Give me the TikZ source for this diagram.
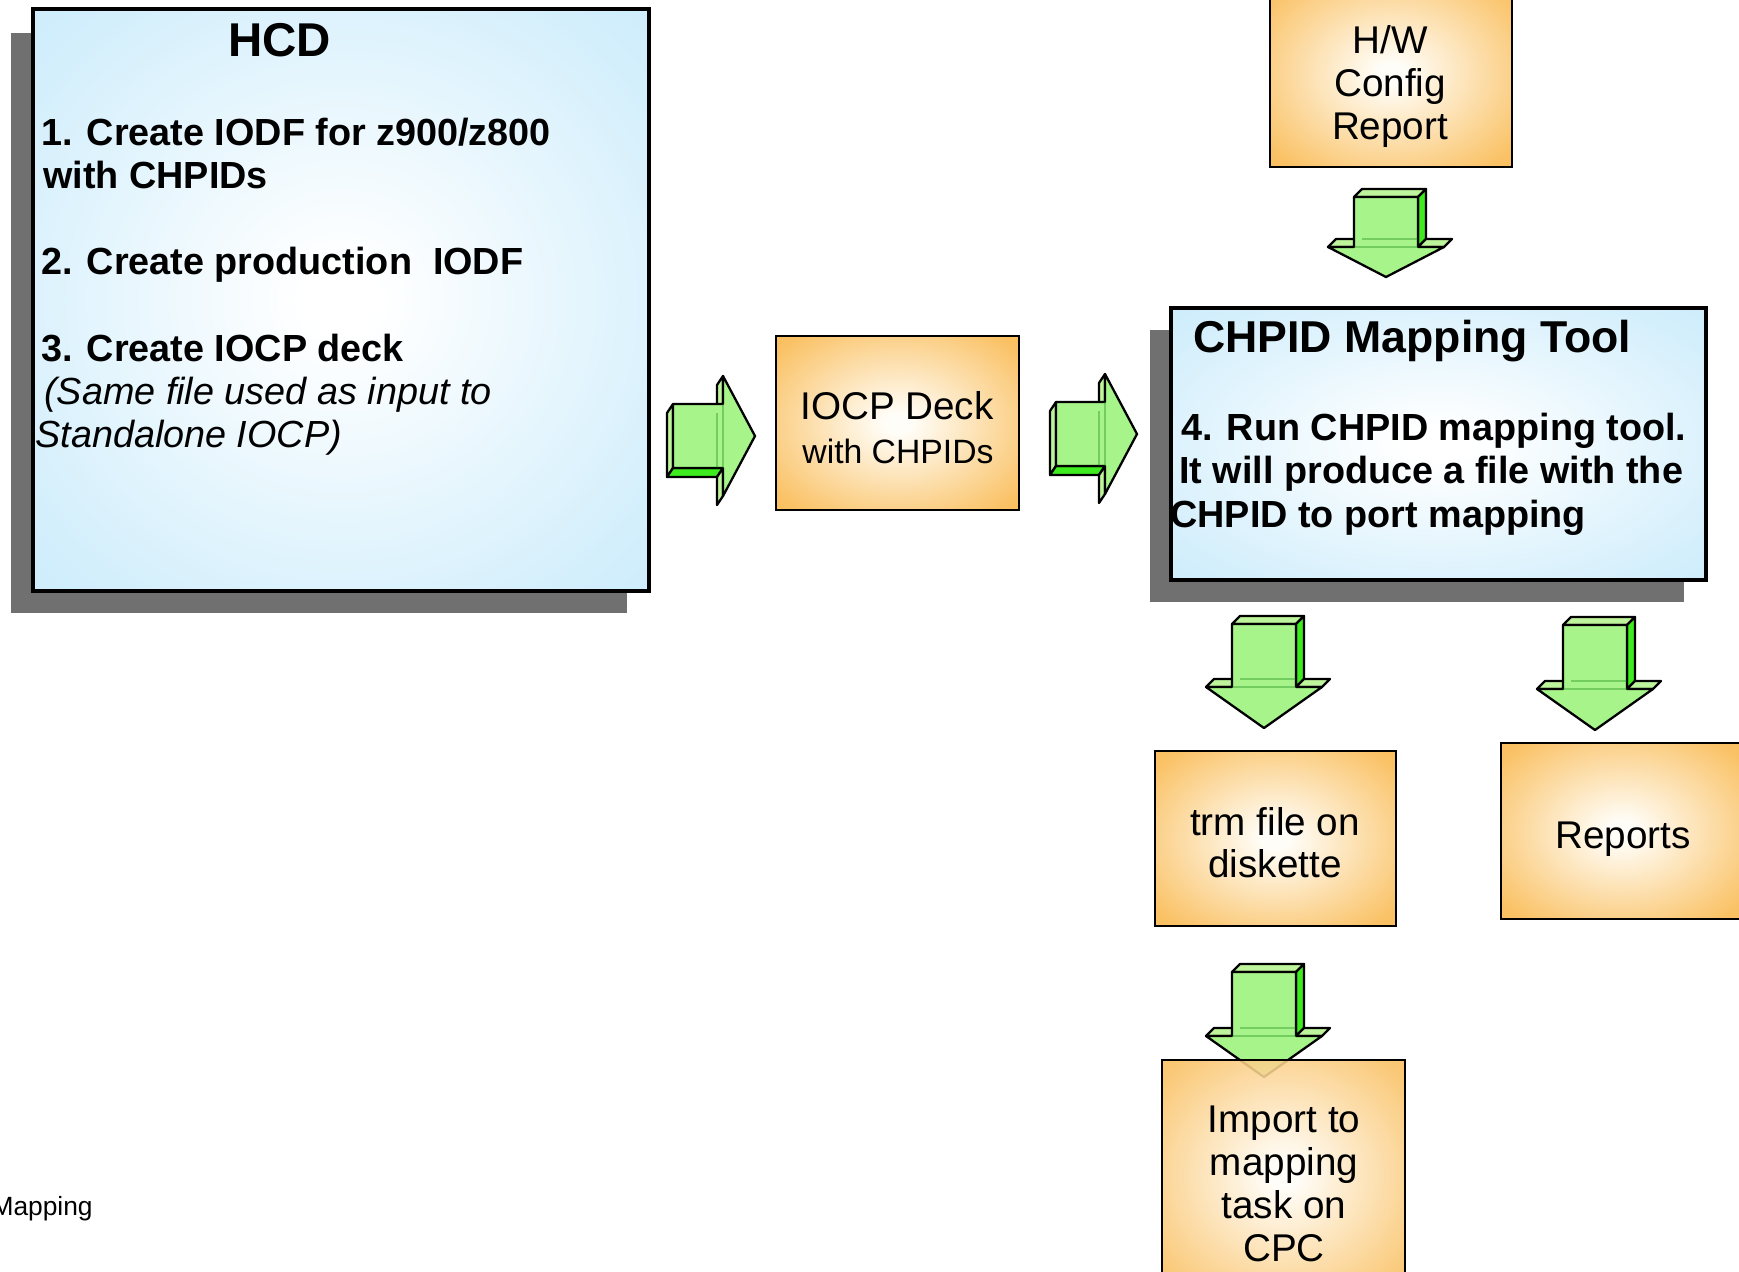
\documentclass[tikz,border=0pt]{standalone}
\usepackage{fontspec}
\setmainfont{Liberation Sans}
\definecolor{shadowgray}{HTML}{707070}
\definecolor{orC}{HTML}{FFFDF7}
\definecolor{orM}{HTML}{FAC266}
\definecolor{orN}{HTML}{F8B242}
\definecolor{orE}{HTML}{F5A52C}
\definecolor{blC}{HTML}{FFFFFF}
\definecolor{blM}{HTML}{D4EFFC}
\definecolor{blN}{HTML}{C0E6FA}
\definecolor{blE}{HTML}{AEDEF8}
\definecolor{arFront}{HTML}{A6F48A}
\definecolor{arLight}{HTML}{BEF59C}
\definecolor{arBright}{HTML}{3DEB1F}
\pgfdeclareradialshading{orangeglow}{\pgfpoint{0bp}{0bp}}{color(0bp)=(orC); color(3bp)=(orC); color(32bp)=(orM); color(50bp)=(orN); color(72bp)=(orE)}
\pgfdeclareradialshading{blueglow}{\pgfpoint{0bp}{0bp}}{color(0bp)=(blC); color(3bp)=(blC); color(30bp)=(blM); color(50bp)=(blN); color(72bp)=(blE)}
\tikzset{
  shadowfill/.style={fill=shadowgray, draw=none},
  bluebox/.style={draw=black, line width=2.2pt, shading=blueglow, inner sep=0pt},
  orangebox/.style={draw=black, line width=1.1pt, shading=orangeglow, inner sep=0pt},
  titletext/.style={font=\fontsize{27}{30}\selectfont\bfseries, inner sep=0pt},
  tooltitle/.style={font=\fontsize{25.4}{28}\selectfont\bfseries, inner sep=0pt},
  boldtext/.style={font=\fontsize{21.5}{24.5}\selectfont\bfseries, inner sep=0pt},
  italtext/.style={font=\fontsize{21.5}{24.5}\selectfont\itshape, inner sep=0pt},
  ortext/.style={font=\fontsize{22}{24.5}\selectfont, inner sep=0pt},
  ortextsmall/.style={font=\fontsize{19.2}{22}\selectfont, inner sep=0pt},
  foottext/.style={font=\fontsize{15}{17}\selectfont, inner sep=0pt},
  arLightFace/.style={fill=arLight, draw=black, line width=1.3pt, line join=round},
  arBrightFace/.style={fill=arBright, draw=black, line width=1.3pt, line join=round},
  arFrontFace/.style={fill=arFront, draw=black, line width=1.3pt, line join=round},
  arGhost/.style={draw=green!45!black, opacity=0.3, line width=1pt},
}
% box node from image pixel corners
\newcommand\boxnode[7][]{\node[#2, #1, minimum width={(#5-#3)*0.02cm}, minimum height={(#6-#4)*0.02cm}] (#7) at ({(#3+#5)/2},{(#4+#6)/2}) {};}
% down block arrow: #1 cx, #2 y of shaft top, #3 shaft length, #4 head length
\newcommand\darrow[4]{%
\begin{scope}[shift={(#1,#2)}]
 \path[arLightFace] (-32,0) -- (32,0) -- (40,-8) -- (-24,-8) -- cycle;
 \path[arBrightFace] (32,0) -- (32,#3) -- (40,{#3-8}) -- (40,-8) -- cycle;
 \path[arLightFace] (32,#3) -- (58,#3) -- (66,{#3-8}) -- (40,{#3-8}) -- cycle;
 \path[arLightFace] (-58,#3) -- (-32,#3) -- (-24,{#3-8}) -- (-50,{#3-8}) -- cycle;
 \path[arFrontFace] (-32,0) -- (32,0) -- (32,#3) -- (58,#3) -- (0,{#3+#4}) -- (-58,#3) -- (-32,#3) -- cycle;
 \draw[arGhost] (-32,#3) -- (32,#3) (-24,{#3-8}) -- (32,{#3-8});
\end{scope}}
% right block arrow: #1 x of shaft left, #2 cy, #3 shaft length, #4 head length
\newcommand\rarrow[4]{%
\begin{scope}[shift={(#1,#2)}]
 \path[arLightFace] (0,32) -- (0,-32) -- (-6,-23) -- (-6,41) -- cycle;
 \path[arBrightFace] (#3,32) -- (0,32) -- (-6,41) -- ({#3-6},41) -- cycle;
 \path[arLightFace] (#3,-32) -- (#3,-60) -- ({#3-6},-51) -- ({#3-6},-23) -- cycle;
 \path[arLightFace] (#3,60) -- (#3,32) -- ({#3-6},41) -- ({#3-6},69) -- cycle;
 \path[arFrontFace] (0,-32) -- (#3,-32) -- (#3,-60) -- ({#3+#4},0) -- (#3,60) -- (#3,32) -- (0,32) -- cycle;
 \draw[arGhost] (#3,-32) -- (#3,32) ({#3-6},-23) -- ({#3-6},32);
\end{scope}}
\begin{document}
\begin{tikzpicture}[x=0.02cm,y=-0.02cm]
\useasboundingbox (0,0) rectangle (1739,1272);
\clip (0,0) rectangle (1739,1272);
\fill[white] (0,0) rectangle (1739,1272);

% HCD block
\fill[shadowfill] (11,33) rectangle (627,613);
\boxnode{bluebox}{33}{9}{649}{591}{hcd}
\node[titletext, anchor=base west] (hcdT) at (228,56) {HCD};
\node[boldtext, anchor=base west] (hcd1) at (41,145) {1. Create IODF for z900/z800};
\node[boldtext, anchor=base west] (hcd2) at (43,188) {with CHPIDs};
\node[boldtext, anchor=base west] (hcd3) at (41,274) {2. Create production\ \ IODF};
\node[boldtext, anchor=base west] (hcd4) at (41,361) {3. Create IOCP deck};
\node[italtext, anchor=base west] (hcd5) at (44,404) {(Same file used as input to};
\node[italtext, anchor=base west] (hcd6) at (35,447) {Standalone IOCP)};

% arrows right
\rarrow{673}{436}{50}{32}
\rarrow{1056}{434}{49}{32}

% IOCP deck
\boxnode{orangebox}{776}{336}{1019}{510}{iocp}
\node[ortext, anchor=base] (iocpA) at (897,419) {IOCP Deck};
\node[ortextsmall, anchor=base] (iocpB) at (898,463) {with CHPIDs};

% H/W config report
\boxnode{orangebox}{1270}{-20}{1512}{167}{hwbox}
\node[ortext, anchor=base] (hw1) at (1390,53) {H/W};
\node[ortext, anchor=base] (hw2) at (1390,96) {Config};
\node[ortext, anchor=base] (hw3) at (1390,139) {Report};

\darrow{1386}{197}{50}{30}

% CHPID Mapping Tool
\fill[shadowfill] (1150,330) rectangle (1684,602);
\boxnode{bluebox}{1171}{308}{1706}{580}{cmt}
\node[tooltitle, anchor=base west] (cmtT) at (1193,352) {CHPID Mapping Tool};
\node[boldtext, anchor=base west] (cmt1) at (1181,440) {4. Run CHPID mapping tool.};
\node[boldtext, anchor=base west] (cmt2) at (1179,483) {It will produce a file with the};
\node[boldtext, anchor=base west] (cmt3) at (1170,527) {CHPID to port mapping};

\darrow{1264}{624}{63}{41}
\darrow{1595}{625}{64}{41}

% trm file
\boxnode{orangebox}{1155}{751}{1396}{926}{trm}
\node[ortext, anchor=base] (trm1) at (1275,835) {trm file on};
\node[ortext, anchor=base] (trm2) at (1275,877) {diskette};

% Reports
\boxnode{orangebox}{1501}{743}{1742}{919}{reports}
\node[ortext, anchor=base] (rep1) at (1623,848) {Reports};

\darrow{1264}{972}{64}{41}

% Import
\boxnode[fill opacity=0.88]{orangebox}{1162}{1060}{1405}{1290}{import}
\node[ortext, anchor=base] (imp1) at (1284,1132) {Import to};
\node[ortext, anchor=base] (imp2) at (1284,1175) {mapping};
\node[ortext, anchor=base] (imp3) at (1284,1218) {task on};
\node[ortext, anchor=base] (imp4) at (1284,1261) {CPC};

\node[foottext, anchor=base east] (foot) at (93,1215) {Mapping};
\end{tikzpicture}
\end{document}
